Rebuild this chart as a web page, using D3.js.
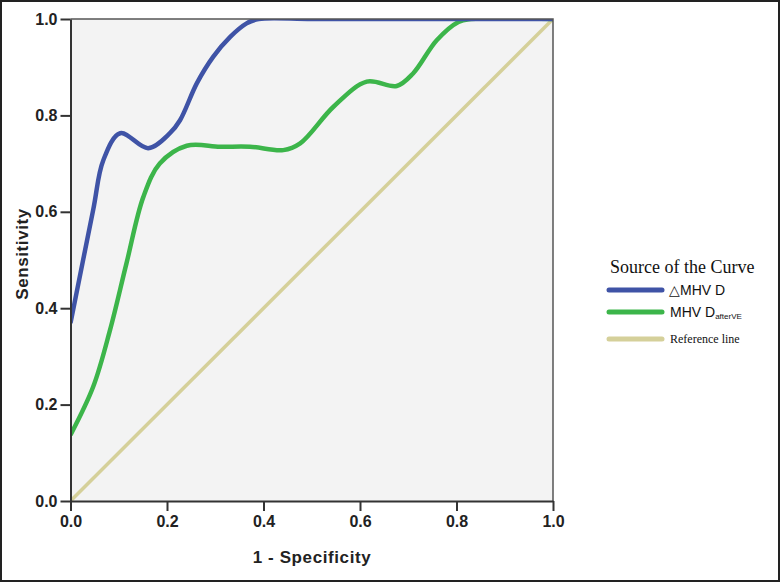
<!DOCTYPE html>
<html>
<head>
<meta charset="utf-8">
<script src="https://cdn.jsdelivr.net/npm/d3@7"></script>
<style>
  body { margin: 0; background: #fff; }
  svg { display: block; }
  .tick text { font-family: "Liberation Sans", Arial, sans-serif; font-weight: bold; font-size: 16px; fill: #222; }
  .axis-title { font-family: "Liberation Sans", Arial, sans-serif; font-weight: bold; font-size: 17px; letter-spacing: 0.6px; fill: #222; }
</style>
</head>
<body>
<script>
// ROC curve points: [1 - specificity, sensitivity]
var deltaMhvD = [
  [0, 0.369], [0.047, 0.604], [0.068, 0.707], [0.103, 0.763], [0.161, 0.732],
  [0.206, 0.763], [0.227, 0.79], [0.262, 0.867], [0.296, 0.922], [0.331, 0.963],
  [0.365, 0.991], [0.39, 1.0], [0.5, 1.0], [0.7, 1.0], [1.0, 1.0]
];
var mhvDafterVE = [
  [0, 0.137], [0.047, 0.237], [0.082, 0.355], [0.116, 0.493], [0.151, 0.631],
  [0.185, 0.70], [0.241, 0.737], [0.31, 0.735], [0.372, 0.735], [0.441, 0.728],
  [0.476, 0.742], [0.545, 0.818], [0.614, 0.870], [0.676, 0.861], [0.71, 0.887],
  [0.759, 0.956], [0.804, 0.994], [0.83, 1.0], [1.0, 1.0]
];
var referenceLine = [[0, 0], [1, 1]];
var xTicks = [0, 0.2, 0.4, 0.6, 0.8, 1.0];
var yTicks = [0, 0.2, 0.4, 0.6, 0.8, 1.0];

var width = 780, height = 582;
var plotLeft = 70.5, plotRight = 553, plotTop = 19, plotBottom = 501;

var x = d3.scaleLinear().domain([0, 1]).range([plotLeft, plotRight]);
var y = d3.scaleLinear().domain([0, 1]).range([plotBottom, plotTop]);

var svg = d3.select("body").append("svg")
  .attr("width", width)
  .attr("height", height);

// outer frame
svg.append("rect")
  .attr("x", 1).attr("y", 1)
  .attr("width", width - 2).attr("height", height - 2)
  .attr("fill", "#fff").attr("stroke", "#222").attr("stroke-width", 2);

// plot background
svg.append("rect")
  .attr("x", plotLeft).attr("y", plotTop)
  .attr("width", plotRight - plotLeft).attr("height", plotBottom - plotTop)
  .attr("fill", "#f3f3f3");

svg.append("clipPath").attr("id", "plot-clip")
  .append("rect")
  .attr("x", plotLeft).attr("y", plotTop)
  .attr("width", plotRight - plotLeft).attr("height", plotBottom - plotTop);

var line = d3.line()
  .x(function (d) { return x(d[0]); })
  .y(function (d) { return y(d[1]); })
  .curve(d3.curveCatmullRom.alpha(0.5));

var plot = svg.append("g").attr("clip-path", "url(#plot-clip)");

plot.append("path").datum(referenceLine)
  .attr("d", d3.line().x(function (d) { return x(d[0]); }).y(function (d) { return y(d[1]); }))
  .attr("fill", "none").attr("stroke", "#d5d09a").attr("stroke-width", 3.5);

plot.append("path").datum(mhvDafterVE)
  .attr("d", line)
  .attr("fill", "none").attr("stroke", "#3cb54a").attr("stroke-width", 4.5);

plot.append("path").datum(deltaMhvD)
  .attr("d", line)
  .attr("fill", "none").attr("stroke", "#3f53a6").attr("stroke-width", 4.5);

// top and right border of the plot
svg.append("path")
  .attr("d", "M" + plotLeft + "," + plotTop + "H" + plotRight + "V" + plotBottom)
  .attr("fill", "none").attr("stroke", "#555").attr("stroke-width", 1.5);

// axes
var xAxis = svg.append("g")
  .attr("transform", "translate(0," + plotBottom + ")")
  .call(d3.axisBottom(x).tickValues(xTicks).tickFormat(d3.format(".1f")).tickSize(10).tickPadding(5).tickSizeOuter(0));

var yAxis = svg.append("g")
  .attr("transform", "translate(" + plotLeft + ",0)")
  .call(d3.axisLeft(y).tickValues(yTicks).tickFormat(d3.format(".1f")).tickSize(10).tickPadding(3).tickSizeOuter(0));

[xAxis, yAxis].forEach(function (a) {
  a.select(".domain").attr("stroke", "#333").attr("stroke-width", 2);
  a.selectAll(".tick line").attr("stroke", "#333").attr("stroke-width", 2);
});

svg.append("text").attr("class", "axis-title")
  .attr("x", 312).attr("y", 563)
  .attr("text-anchor", "middle")
  .text("1 - Specificity");

svg.append("text").attr("class", "axis-title")
  .attr("transform", "translate(28,254) rotate(-90)")
  .attr("text-anchor", "middle")
  .text("Sensitivity");

// legend
var legend = svg.append("g");
legend.append("text")
  .attr("x", 610).attr("y", 273)
  .attr("font-family", "'Liberation Serif', 'Times New Roman', serif")
  .attr("font-size", 18).attr("fill", "#111")
  .text("Source of the Curve");

var legendItems = [
  { color: "#3f53a6", y: 290, width: 5 },
  { color: "#3cb54a", y: 312, width: 5 },
  { color: "#d5d09a", y: 339, width: 5 }
];
legend.selectAll("line.key").data(legendItems).enter().append("line")
  .attr("class", "key")
  .attr("x1", 609).attr("x2", 662)
  .attr("y1", function (d) { return d.y; }).attr("y2", function (d) { return d.y; })
  .attr("stroke", function (d) { return d.color; })
  .attr("stroke-width", function (d) { return d.width; })
  .attr("stroke-linecap", "round");

legend.append("text")
  .attr("x", 669).attr("y", 295)
  .attr("font-family", "'Liberation Sans', Arial, sans-serif")
  .attr("font-size", 14).attr("fill", "#111")
  .text("\u25B3MHV D");

var t2 = legend.append("text")
  .attr("x", 670).attr("y", 317)
  .attr("font-family", "'Liberation Sans', Arial, sans-serif")
  .attr("font-size", 14).attr("fill", "#111");
t2.append("tspan").text("MHV D");
t2.append("tspan").attr("font-size", 8).attr("dy", 2).text("afterVE");

legend.append("text")
  .attr("x", 670).attr("y", 343)
  .attr("font-family", "'Liberation Serif', 'Times New Roman', serif")
  .attr("font-size", 12).attr("fill", "#111")
  .text("Reference line");
</script>
</body>
</html>
